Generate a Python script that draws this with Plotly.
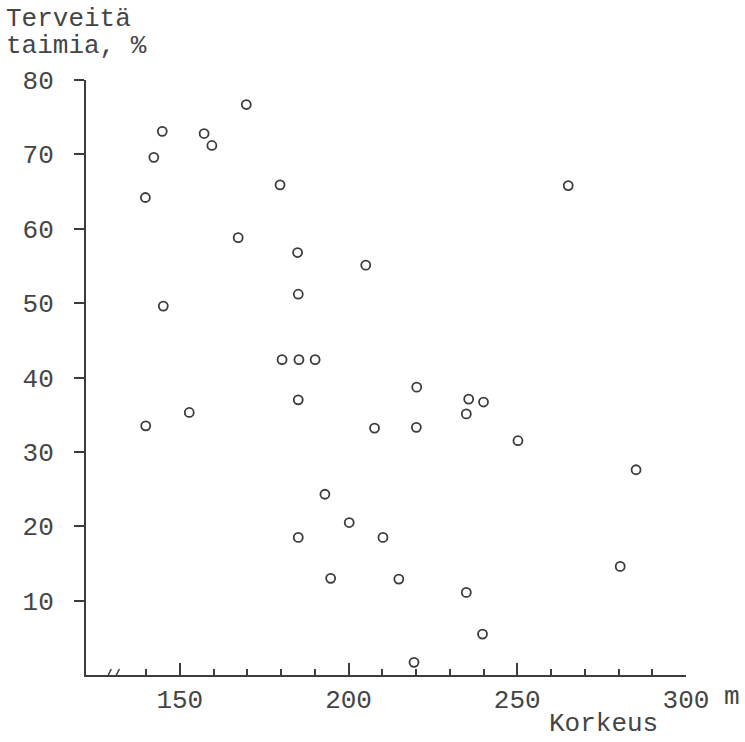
import plotly.graph_objects as go

# Korkeus (m) ja terveiden taimien osuus (%)
korkeus = [169.7, 144.8, 157.2, 159.5, 142.3, 179.7, 139.8, 167.3, 184.9, 145.1,
           185.1, 180.3, 185.3, 190.1, 185.1, 152.8, 139.9, 205.1, 220.2, 193.0,
           200.2, 185.1, 210.2, 194.7, 214.9, 219.4, 235.6, 240.0, 234.9, 207.7,
           220.1, 250.2, 280.5, 234.9, 239.7, 265.1, 285.2]
terveita = [76.7, 73.1, 72.8, 71.2, 69.6, 65.9, 64.2, 58.8, 56.8, 49.6,
            51.2, 42.4, 42.4, 42.4, 37.0, 35.3, 33.5, 55.1, 38.7, 24.3,
            20.5, 18.5, 18.5, 13.0, 12.9, 1.7, 37.1, 36.7, 35.1, 33.2,
            33.3, 31.5, 14.6, 11.1, 5.5, 65.8, 27.6]

x_major = [150, 200, 250, 300]
x_minor = [140, 160, 170, 180, 190, 210, 220, 230, 240, 260, 270, 280, 290]
y_ticks = [10, 20, 30, 40, 50, 60, 70, 80]

INK = "#3c3c3c"
TEXT = "#454545"
FONT = dict(family="Liberation Mono, Courier New, monospace", size=26, color=TEXT)

fig = go.Figure()
fig.add_trace(go.Scatter(
    x=korkeus, y=terveita, mode="markers",
    marker=dict(symbol="circle-open", size=9, color=INK, line=dict(width=1.8, color=INK)),
    hoverinfo="x+y", showlegend=False,
))

fig.update_layout(
    width=745, height=742,
    margin=dict(l=86, r=59, t=80, b=67),
    paper_bgcolor="white", plot_bgcolor="white",
    font=FONT,
    xaxis=dict(
        range=[122.2, 300], showgrid=False, zeroline=False,
        showline=True, linecolor=INK, linewidth=2,
        tickmode="array", tickvals=x_major, ticktext=[str(v) for v in x_major],
        ticks="inside", ticklen=12, tickwidth=1.5, tickcolor=INK,
        ticklabelstandoff=0,
        minor=dict(tickmode="array", tickvals=x_minor, ticks="inside",
                   ticklen=6, tickwidth=1.5, tickcolor=INK),
        automargin=False, fixedrange=True,
    ),
    yaxis=dict(
        range=[0, 80], showgrid=False, zeroline=False,
        showline=True, linecolor=INK, linewidth=2,
        tickmode="array", tickvals=y_ticks, ticktext=[str(v) for v in y_ticks],
        ticks="outside", ticklen=10, tickwidth=1.5, tickcolor=INK,
        ticklabelstandoff=15,
        automargin=False, fixedrange=True,
    ),
)

# axis break on the x axis
fig.add_shape(type="rect", xref="x", yref="y", xsizemode="pixel", ysizemode="pixel",
              xanchor=130.0, yanchor=0, x0=-8, x1=6, y0=-3, y1=3,
              line=dict(width=0), fillcolor="white", layer="above")
for xa in (128.8, 131.2):
    fig.add_shape(type="line", xref="x", yref="y", xsizemode="pixel", ysizemode="pixel",
                  xanchor=xa, yanchor=0, x0=-3, x1=3, y0=-6, y1=6,
                  line=dict(width=1.5, color=INK), layer="above")

# axis titles
fig.add_annotation(text="Terveitä", xref="paper", yref="paper", x=-0.137, y=1.0,
                   xanchor="left", yanchor="bottom", yshift=44, showarrow=False, font=FONT)
fig.add_annotation(text="taimia, %", xref="paper", yref="paper", x=-0.137, y=1.0,
                   xanchor="left", yanchor="bottom", yshift=17, showarrow=False, font=FONT)
fig.add_annotation(text="m", xref="x", yref="paper", x=300, y=0,
                   xanchor="left", yanchor="top", xshift=36, yshift=-5, showarrow=False, font=FONT)
fig.add_annotation(text="Korkeus", xref="paper", yref="paper", x=(603 - 86) / 600, y=0,
                   xanchor="center", yanchor="top", yshift=-32, showarrow=False, font=FONT)

fig.write_html("out.html")
